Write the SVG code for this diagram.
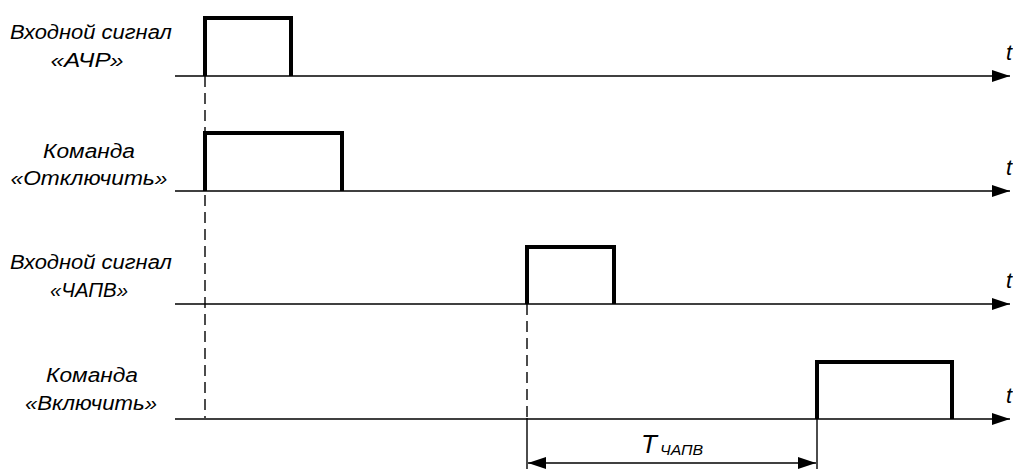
<svg xmlns="http://www.w3.org/2000/svg" width="1013" height="470" viewBox="0 0 1013 470">
<style>
.lbl{font-family:"Liberation Sans",Arial,sans-serif;font-style:italic;font-size:20px;fill:#000;text-anchor:middle}
.t{font-family:"Liberation Sans",Arial,sans-serif;font-style:italic;font-size:22px;fill:#000}
.axis{stroke:#000;stroke-width:1.5;fill:none}
.pulse{stroke:#000;stroke-width:4;fill:none;stroke-linejoin:miter}
.dash{stroke:#000;stroke-width:1.4;stroke-dasharray:11 6;fill:none}
.thin{stroke:#000;stroke-width:1.4;fill:none}
</style>
<defs>
<marker id="ah" markerWidth="18" markerHeight="12" refX="18" refY="6" orient="auto" markerUnits="userSpaceOnUse">
<path d="M0,0 L18,6 L0,12 Z" fill="#000"/>
</marker>
<marker id="dh" markerWidth="18" markerHeight="12" refX="18" refY="6" orient="auto-start-reverse" markerUnits="userSpaceOnUse">
<path d="M0,0 L18,6 L0,12 Z" fill="#000"/>
</marker>
</defs>
<g id="connectors">
<path class="dash" d="M205 76 V418"/>
<path class="dash" d="M527 304 V418"/>
<path class="thin" d="M527 418 V469"/>
<path class="thin" d="M817 418 V469"/>
<path class="thin" d="M528 463 H816" marker-start="url(#dh)" marker-end="url(#dh)"/>
</g>
<g id="signal-achr">
<text class="lbl" x="91" y="39" textLength="162" lengthAdjust="spacingAndGlyphs">Входной сигнал</text>
<text class="lbl" x="87" y="67" textLength="73" lengthAdjust="spacingAndGlyphs">«АЧР»</text>
<path class="axis" d="M175 76 H1010" marker-end="url(#ah)"/>
<path class="pulse" d="M205 76 V18 H291 V76"/>
<text class="t" x="1006" y="60">t</text>
</g>
<g id="cmd-off">
<text class="lbl" x="89" y="158" textLength="92" lengthAdjust="spacingAndGlyphs">Команда</text>
<text class="lbl" x="89" y="185" textLength="157" lengthAdjust="spacingAndGlyphs">«Отключить»</text>
<path class="axis" d="M175 191 H1010" marker-end="url(#ah)"/>
<path class="pulse" d="M205 191 V133 H342 V191"/>
<text class="t" x="1006" y="175">t</text>
</g>
<g id="signal-chapv">
<text class="lbl" x="91" y="269" textLength="162" lengthAdjust="spacingAndGlyphs">Входной сигнал</text>
<text class="lbl" x="89" y="297" textLength="78" lengthAdjust="spacingAndGlyphs">«ЧАПВ»</text>
<path class="axis" d="M175 304 H1010" marker-end="url(#ah)"/>
<path class="pulse" d="M527 304 V247 H614 V304"/>
<text class="t" x="1006" y="288">t</text>
</g>
<g id="cmd-on">
<text class="lbl" x="92" y="382" textLength="92" lengthAdjust="spacingAndGlyphs">Команда</text>
<text class="lbl" x="91" y="410" textLength="132" lengthAdjust="spacingAndGlyphs">«Включить»</text>
<path class="axis" d="M175 419 H1010" marker-end="url(#ah)"/>
<path class="pulse" d="M817 419 V362 H952 V419"/>
<text class="t" x="1006" y="403">t</text>
</g>
<g id="t-chapv">
<text x="641" y="453" font-family="Liberation Sans,Arial,sans-serif" font-style="italic" font-size="26">T</text>
<text x="660" y="455" font-family="Liberation Sans,Arial,sans-serif" font-style="italic" font-size="15" textLength="43" lengthAdjust="spacingAndGlyphs">ЧАПВ</text>
</g>
</svg>
